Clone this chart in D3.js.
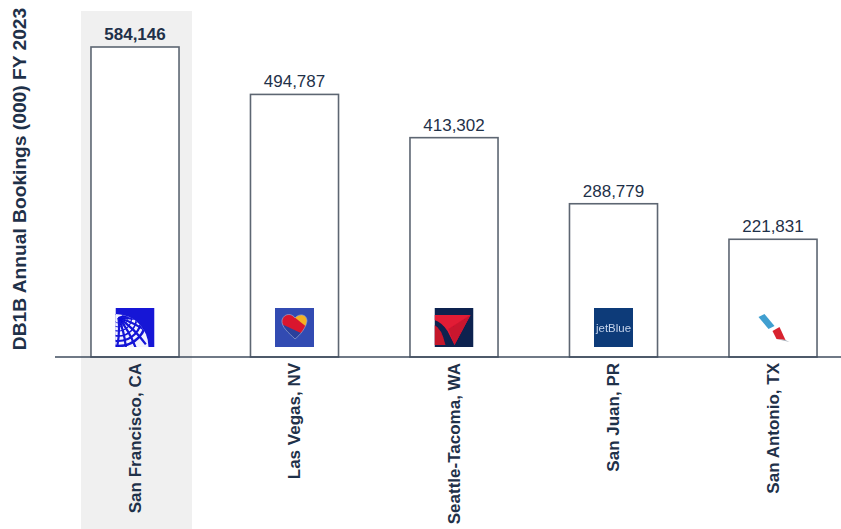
<!DOCTYPE html>
<html>
<head>
<meta charset="utf-8">
<script src="https://cdn.jsdelivr.net/npm/d3@7/dist/d3.min.js"></script>
<style>
html, body { margin: 0; padding: 0; background: #fff; }
svg { display: block; font-family: "Liberation Sans", Arial, sans-serif; }
</style>
</head>
<body>
<svg id="chart" width="841" height="529"></svg>
<script>
const categories = ["San Francisco, CA", "Las Vegas, NV", "Seattle-Tacoma, WA", "San Juan, PR", "San Antonio, TX"];
const bookings = [584146, 494787, 413302, 288779, 221831];
const carriers = ["united", "southwest", "delta", "jetblue", "american"];
const highlighted = "San Francisco, CA";
const yTitle = "DB1B Annual Bookings (000) FY 2023";

const ink = "#1f3149";
const barStroke = "#5d6672";
const svg = d3.select("#chart");
const baseline = 357;

const x = d3.scaleBand().domain(categories).range([55.25, 852.75]).paddingInner(0.448).paddingOuter(0.224);
const y = d3.scaleLinear().domain([0, 584146]).range([baseline, 47]);

// Shaded column behind the leading airport
svg.append("rect")
  .attr("x", x(highlighted) - 10).attr("y", 11)
  .attr("width", x.bandwidth() + 23).attr("height", 518)
  .attr("fill", "#f0f0f0");

// Bars
svg.append("g").selectAll("rect")
  .data(categories)
  .join("rect")
  .attr("x", d => x(d))
  .attr("y", (d, i) => y(bookings[i]))
  .attr("width", x.bandwidth())
  .attr("height", (d, i) => baseline - y(bookings[i]))
  .attr("fill", "#fff")
  .attr("stroke", barStroke)
  .attr("stroke-width", 1.6);

// Value labels
const fmt = d3.format(",");
svg.append("g").selectAll("text")
  .data(categories)
  .join("text")
  .attr("x", d => x(d) + x.bandwidth() / 2)
  .attr("y", (d, i) => y(bookings[i]) - 7)
  .attr("text-anchor", "middle")
  .attr("font-size", 17)
  .attr("font-weight", d => d === highlighted ? 700 : 400)
  .attr("fill", ink)
  .text((d, i) => fmt(bookings[i]));

// Category axis with rotated labels
const axis = svg.append("g")
  .attr("transform", `translate(0,${baseline})`)
  .call(d3.axisBottom(x).tickSize(0).tickPadding(0));
axis.select(".domain").attr("d", "M55,0H841").attr("stroke", "#3f4c5e").attr("stroke-width", 1.6);
axis.selectAll(".tick text")
  .attr("transform", "rotate(-90)")
  .attr("text-anchor", "end")
  .attr("x", -6)
  .attr("y", 0)
  .attr("dy", "0.35em")
  .attr("font-size", 17)
  .attr("font-weight", 700)
  .attr("font-family", '"Liberation Sans", Arial, sans-serif')
  .attr("fill", ink);

// Y axis title
svg.append("text")
  .attr("transform", "translate(26,179) rotate(-90)")
  .attr("text-anchor", "middle")
  .attr("font-size", 19.2)
  .attr("font-weight", 700)
  .attr("fill", ink)
  .text(yTitle);

// Carrier marks, each drawn in a 39px box
const defs = svg.append("defs");
defs.append("filter").attr("id", "soft").attr("x", "-10%").attr("y", "-10%").attr("width", "120%").attr("height", "120%")
  .append("feGaussianBlur").attr("stdDeviation", 0.45);
defs.append("clipPath").attr("id", "logoBox").append("rect").attr("width", 39).attr("height", 39);
defs.append("clipPath").attr("id", "globeDisc").append("circle").attr("cx", 0).attr("cy", 39).attr("r", 33);
const heartShape = "M20,10C17,5 9,5 7,12C6,19 14,25 20,31C25,27 31,20 32,13C32,6 24,5 20,10Z";
defs.append("clipPath").attr("id", "heart").append("path").attr("d", heartShape);

const painters = {
  united(g) {
    g.append("rect").attr("width", 39).attr("height", 39).attr("fill", "#1212d6");
    const globe = g.append("g").attr("clip-path", "url(#globeDisc)");
    globe.append("rect").attr("width", 39).attr("height", 39).attr("fill", "#f2f2ff");
    const pole = [3, 10];
    const grid = globe.append("g").attr("fill", "none").attr("stroke", "#1212d6");
    [[5, 0.8], [9, 0.9], [13, 1.2], [18, 1.7], [23, 2.2], [28, 2.6]].forEach(([r, w]) =>
      grid.append("circle").attr("cx", pole[0]).attr("cy", pole[1]).attr("r", r).attr("stroke-width", w));
    [-8, 10, 27, 44, 61, 78, 95].forEach(a => {
      const t = a * Math.PI / 180;
      const bend = t - 0.2;
      grid.append("path")
        .attr("d", `M${pole[0]},${pole[1]}Q${pole[0] + 18 * Math.cos(bend)},${pole[1] + 18 * Math.sin(bend)} ${pole[0] + 38 * Math.cos(t)},${pole[1] + 38 * Math.sin(t)}`)
        .attr("stroke-width", 2.2);
    });
  },
  southwest(g) {
    g.append("rect").attr("width", 39).attr("height", 39).attr("fill", "#304cb2");
    const h = g.append("g").attr("clip-path", "url(#heart)");
    h.append("rect").attr("width", 39).attr("height", 39).attr("fill", "#2a3f9c");
    h.append("path").attr("d", "M0,6H18L33,20L28,26L0,13Z").attr("fill", "#d9192f");
    h.append("path").attr("d", "M18,8L22,0H39V20H33Z").attr("fill", "#f4b224");
    h.append("path").attr("d", "M0,13L4,15L17,32H0Z").attr("fill", "#8b97c4");
    g.append("path").attr("d", heartShape).attr("fill", "none").attr("stroke", "#9aa6cf").attr("stroke-width", 0.7);
  },
  delta(g) {
    g.append("rect").attr("width", 39).attr("height", 39).attr("fill", "#0c2150");
    g.append("path").attr("d", "M0,7H36L20,37L13,23Q8,15 0,12Z").attr("fill", "#e21a35");
    g.append("path").attr("d", "M14,21L36,7L20,37Z").attr("fill", "#c9122e");
    g.append("path").attr("d", "M0,17Q7,20 11,37H0Z").attr("fill", "#c4122c");
  },
  jetblue(g) {
    g.append("rect").attr("width", 39).attr("height", 39).attr("fill", "#0e3a79");
    g.append("text").attr("x", 19.5).attr("y", 24).attr("text-anchor", "middle")
      .attr("font-size", 11.5).attr("textLength", 35).attr("lengthAdjust", "spacingAndGlyphs")
      .attr("fill", "#c6d5ec").text("jetBlue");
  },
  american(g) {
    g.append("path").attr("d", "M5,9L11,6L21,18L15,21Z").attr("fill", "#3f9fd0");
    g.append("path").attr("d", "M19,23L26,19L32,32L23,31Z").attr("fill", "#d8232f");
    g.append("path").attr("d", "M23,31L32,32L36,34Z").attr("fill", "#a6aeb8");
  }
};

svg.append("g").selectAll("g")
  .data(categories)
  .join("g")
  .attr("transform", d => `translate(${x(d) + x.bandwidth() / 2 - 19.5},308)`)
  .append("g")
  .attr("filter", "url(#soft)")
  .append("g")
  .attr("clip-path", "url(#logoBox)")
  .each(function (d, i) { painters[carriers[i]](d3.select(this)); });
</script>
</body>
</html>
